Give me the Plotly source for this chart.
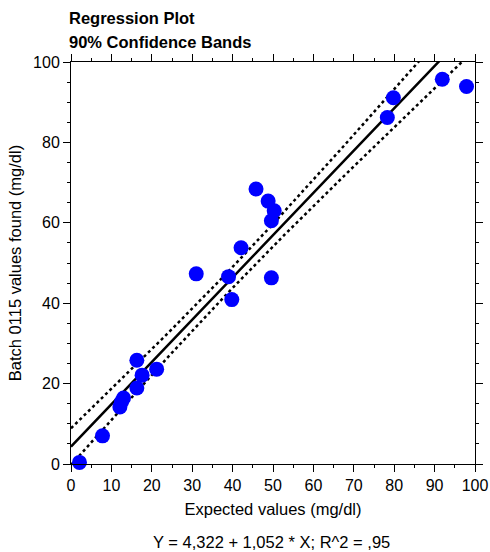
import numpy as np
import plotly.graph_objects as go

expected = [91.9, 97.9, 79.8, 78.3, 45.8, 48.8, 50.3, 49.6, 42.1, 31.0, 39.0,
            49.6, 39.8, 16.3, 21.2, 17.6, 16.3, 13.0, 12.5, 12.1, 7.8, 2.1]
found = [95.7, 93.9, 91.1, 86.2, 68.4, 65.4, 63.0, 60.5, 53.8, 47.3, 46.6,
         46.3, 40.9, 25.8, 23.6, 22.1, 18.9, 16.4, 15.5, 14.2, 7.0, 0.4]

# Regression coefficients as printed on the chart
intercept = 4.322
slope = 1.052
t_90 = 1.725  # two-sided 90% t value, df = n - 2

x = np.array(expected)
y = np.array(found)
n = len(x)
resid = y - (intercept + slope * x)
s = np.sqrt(np.sum(resid ** 2) / (n - 2))
xm = x.mean()
sxx = np.sum((x - xm) ** 2)

xs = np.linspace(0, 100, 201)
fit = intercept + slope * xs
half = t_90 * s * np.sqrt(1.0 / n + (xs - xm) ** 2 / sxx)

FONT = "Liberation Sans, Arial, Helvetica, sans-serif"
TICK = 16
TITLE = 16.5

fig = go.Figure()
fig.add_trace(go.Scatter(x=xs, y=fit + half, mode="lines",
                         line=dict(color="black", width=2.5, dash="dot"), hoverinfo="skip"))
fig.add_trace(go.Scatter(x=xs, y=fit - half, mode="lines",
                         line=dict(color="black", width=2.5, dash="dot"), hoverinfo="skip"))
fig.add_trace(go.Scatter(x=xs, y=fit, mode="lines",
                         line=dict(color="black", width=2.5), hoverinfo="skip"))
fig.add_trace(go.Scatter(x=expected, y=found, mode="markers", cliponaxis=False,
                         marker=dict(color="#0000FF", size=15, line=dict(width=0))))

axis_common = dict(
    showgrid=False, zeroline=False, showline=True, linecolor="black", linewidth=1,
    mirror="ticks", ticks="outside", ticklen=7, tickwidth=1, tickcolor="black",
    tickfont=dict(family=FONT, size=TICK, color="black"), automargin=False,
)

fig.update_xaxes(range=[0, 100], dtick=10, tick0=0,
                 minor=dict(ticks="outside", ticklen=3, dtick=5, tickcolor="black"),
                 title=dict(text="Expected values (mg/dl)", font=dict(family=FONT, size=TITLE, color="black"),
                            standoff=10),
                 **axis_common)
fig.update_yaxes(range=[0, 100], dtick=20, tick0=0,
                 minor=dict(ticks="outside", ticklen=3, dtick=5, tickcolor="black"),
                 title=dict(text="Batch 0115 values found (mg/dl)", font=dict(family=FONT, size=TITLE, color="black"),
                            standoff=7),
                 **axis_common)

fig.update_layout(
    width=490, height=552,
    margin=dict(l=71, r=15, t=62, b=88),
    paper_bgcolor="white", plot_bgcolor="white",
    showlegend=False,
    annotations=[
        dict(text="<b>Regression Plot</b>", xref="paper", yref="paper",
             x=0, y=1.0, xshift=-4, yshift=44, xanchor="left", yanchor="middle", showarrow=False,
             font=dict(family=FONT, size=TITLE, color="black")),
        dict(text="<b>90% Confidence Bands</b>", xref="paper", yref="paper",
             x=0, y=1.0, xshift=-4, yshift=20, xanchor="left", yanchor="middle", showarrow=False,
             font=dict(family=FONT, size=TITLE, color="black")),
        dict(text="Y = 4,322 + 1,052 * X; R^2 = ,95", xref="paper", yref="paper",
             x=0.4975, y=0, yshift=-78, xanchor="center", yanchor="middle", showarrow=False,
             font=dict(family=FONT, size=TITLE, color="black")),
    ],
)

fig.write_html(
    "out.html",
    config={"displayModeBar": False},
    post_script="document.body.style.margin='0';document.body.style.overflow='hidden';",
)
